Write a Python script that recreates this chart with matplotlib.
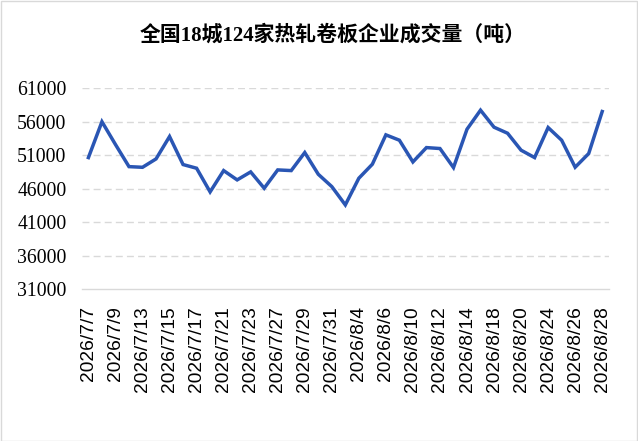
import matplotlib
matplotlib.use("Agg")
import matplotlib.pyplot as plt

# 全国18城124家热轧卷板企业成交量（吨），交易日
dates = [
    "2026/7/7", "2026/7/8", "2026/7/9", "2026/7/10", "2026/7/13", "2026/7/14",
    "2026/7/15", "2026/7/16", "2026/7/17", "2026/7/20", "2026/7/21", "2026/7/22",
    "2026/7/23", "2026/7/24", "2026/7/27", "2026/7/28", "2026/7/29", "2026/7/30",
    "2026/7/31", "2026/8/3", "2026/8/4", "2026/8/5", "2026/8/6", "2026/8/7",
    "2026/8/10", "2026/8/11", "2026/8/12", "2026/8/13", "2026/8/14", "2026/8/17",
    "2026/8/18", "2026/8/19", "2026/8/20", "2026/8/21", "2026/8/24", "2026/8/25",
    "2026/8/26", "2026/8/27", "2026/8/28",
]
volume = [
    50650, 56000, 52600, 49300, 49200, 50450, 53790, 49610, 49060, 45530,
    48710, 47320, 48510, 46080, 48810, 48710, 51400, 48160, 46320, 43590,
    47570, 49660, 54040, 53240, 50000, 52140, 52000, 49160, 54880, 57720,
    55180, 54280, 51750, 50650, 55130, 53240, 49210, 51250, 57520,
]
y_ticks = [31000, 36000, 41000, 46000, 51000, 56000, 61000]

SERIF = ["Liberation Serif", "Noto Sans CJK SC", "DejaVu Sans"]
LINE_COLOR = "#2a56b4"
GRID_COLOR = "#d9d9d9"

fig = plt.figure(figsize=(6.38, 4.41), dpi=100)
ax = fig.add_axes([0.128, 0.344, 0.9545 - 0.128, 0.80 - 0.344])

x = list(range(len(dates)))
ax.plot(x, volume, color=LINE_COLOR, linewidth=2.5, solid_joinstyle="miter")

ax.set_xlim(-0.5, len(dates) - 0.5)
ax.set_ylim(y_ticks[0], y_ticks[-1])
ax.set_yticks(y_ticks)
ax.set_yticklabels([str(v) for v in y_ticks], family=SERIF, fontsize=14.2)

ax.set_xticks(x[::2])
ax.set_xticklabels(dates[::2], rotation=90, family=["Liberation Sans"],
                   fontsize=13.8, va="top", ha="center")

for v in y_ticks[1:]:
    ax.axhline(v, color=GRID_COLOR, linewidth=1.0, linestyle=(0, (5, 3)), zorder=0)

for side in ["top", "right", "left"]:
    ax.spines[side].set_visible(False)
ax.spines["bottom"].set_color(GRID_COLOR)
ax.spines["bottom"].set_linewidth(1.0)
ax.tick_params(axis="both", length=0)
ax.tick_params(axis="y", pad=11)
ax.tick_params(axis="x", pad=12)

fig.text(0.522, 0.92, "全国18城124家热轧卷板企业成交量（吨）", ha="center", va="center",
         fontsize=15, fontweight="bold", family=SERIF)

# 外框
fig.patches.append(plt.Rectangle((0.001, 0.001), 0.997, 0.997, transform=fig.transFigure,
                                 fill=False, edgecolor="#d9d9d9", linewidth=1.0))

fig.savefig("out.png", dpi=100)
